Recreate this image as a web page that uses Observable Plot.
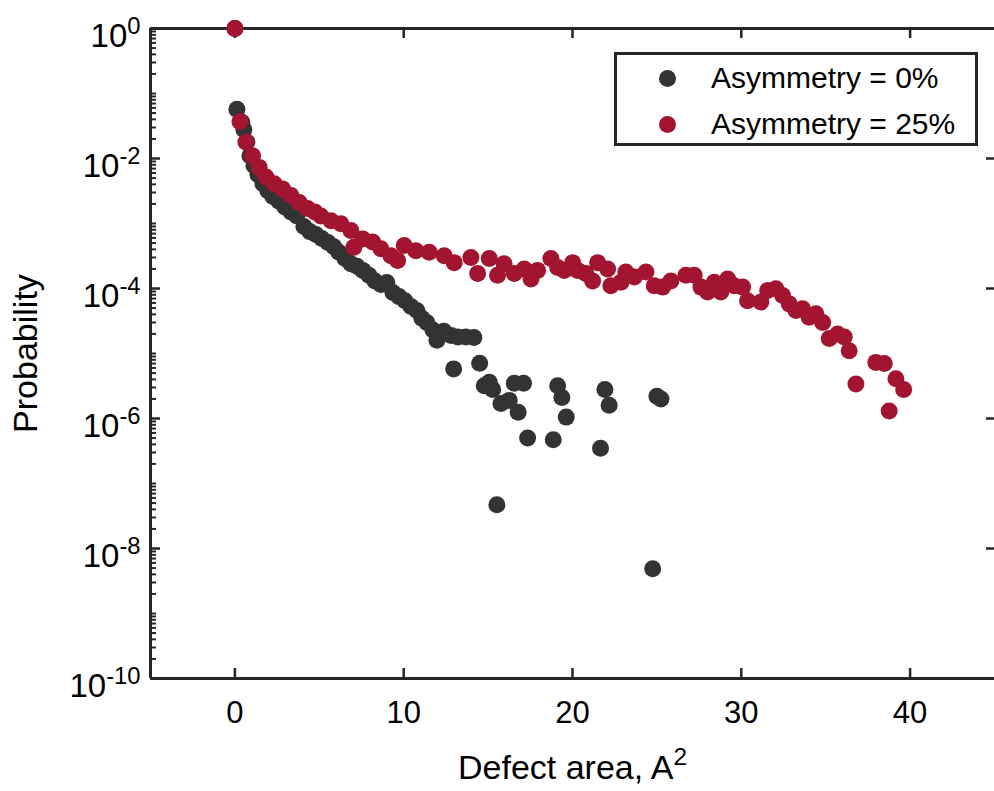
<!DOCTYPE html>
<html>
<head>
<meta charset="utf-8">
<script src="https://cdn.jsdelivr.net/npm/d3@7"></script>
<script src="https://cdn.jsdelivr.net/npm/@observablehq/plot@0.6"></script>
<style>
  html, body { margin: 0; padding: 0; background: #fff; }
  #wrap { position: relative; width: 994px; height: 791px; font-family: "Liberation Sans", Arial, Helvetica, sans-serif; }
  #legend { position: absolute; left: 614px; top: 52px; width: 358px; height: 88px; border: 3px solid #262626; background: #fff; }
  .row { position: absolute; left: 0; height: 40px; display: flex; align-items: center; font-size: 30px; color: #000; white-space: nowrap; }
  .sw { width: 17px; height: 17px; border-radius: 50%; margin-left: 42px; margin-right: 35px; }
</style>
</head>
<body>
<div id="wrap">
  <div id="chart"></div>
  <div id="legend">
    <div class="row" style="top:3px"><span class="sw" style="background:#333333"></span><span id="l0"></span></div>
    <div class="row" style="top:49px"><span class="sw" style="background:#A2142F"></span><span id="l1"></span></div>
  </div>
</div>
<script>
// ---- data ----
const seriesNames = ["Asymmetry = 0%", "Asymmetry = 25%"];
const seriesColors = ["#333333", "#A2142F"];

const blackX = [0, 0.12, 0.41, 0.53, 0.71, 0.89, 1.13, 1.36, 1.66, 1.95, 2.25, 2.61, 2.96, 3.32, 3.67,
  4.09, 4.44, 4.80, 5.15, 5.51, 5.86, 6.16, 6.52, 6.87, 7.23, 7.58, 7.94, 8.29, 8.65, 9.00,
  9.36, 9.72, 10.07, 10.43, 10.78, 11.08, 11.37, 11.73, 11.97, 12.38, 12.80, 13.21, 13.68, 14.16,
  12.96, 14.50, 14.77, 15.07, 15.27, 15.52, 15.76, 16.25, 16.55, 16.78, 17.10, 17.34, 18.86,
  19.12, 19.37, 19.63, 21.66, 21.92, 22.17, 24.75, 25.00, 25.24];
const blackP = [1, 5.7e-2, 3.6e-2, 2.8e-2, 1.8e-2, 1.1e-2, 7.8e-3, 5.7e-3, 4.1e-3, 3.2e-3, 2.6e-3, 2.2e-3, 1.8e-3, 1.5e-3, 1.3e-3,
  9.0e-4, 7.5e-4, 6.8e-4, 5.9e-4, 5.1e-4, 4.4e-4, 3.6e-4, 2.9e-4, 2.4e-4, 2.2e-4, 1.9e-4, 1.6e-4, 1.3e-4, 1.15e-4, 1.24e-4,
  8.7e-5, 7.5e-5, 6.5e-5, 5.3e-5, 4.6e-5, 3.5e-5, 3.0e-5, 2.3e-5, 1.6e-5, 2.2e-5, 1.9e-5, 1.8e-5, 1.8e-5, 1.76e-5,
  5.8e-6, 7.1e-6, 3.2e-6, 3.6e-6, 2.8e-6, 4.7e-8, 1.7e-6, 1.9e-6, 3.5e-6, 1.25e-6, 3.5e-6, 5.0e-7, 4.7e-7,
  3.2e-6, 2.1e-6, 1.05e-6, 3.5e-7, 2.8e-6, 1.6e-6, 4.9e-9, 2.2e-6, 2.0e-6];

const redX = [0, 0.30, 0.65, 1.05, 1.44, 1.84, 2.33, 2.83, 3.32, 3.81, 4.31, 4.74, 5.09, 5.69, 6.28, 6.87,
  7.05, 7.57, 8.16, 8.65, 9.24, 9.64, 10.03, 10.72, 11.51, 12.40, 12.99, 13.98, 14.38, 15.07, 15.56,
  15.95, 16.55, 17.14, 17.54, 17.93, 18.72, 19.12, 19.51, 20.01, 20.30, 20.79, 21.19, 21.49, 22.08,
  22.27, 22.87, 23.16, 23.66, 24.35, 24.84, 25.34, 25.83, 26.72, 27.21, 27.61, 28.00, 28.40, 28.79,
  29.19, 29.58, 30.08, 30.37, 31.16, 31.56, 32.05, 32.45, 32.84, 33.24, 33.63, 34.02, 34.42, 34.82,
  35.21, 35.71, 36.10, 36.39, 36.79, 37.97, 38.47, 38.76, 39.16, 39.62];
const redP = [1, 3.7e-2, 1.8e-2, 1.1e-2, 7.3e-3, 5.2e-3, 4.1e-3, 3.4e-3, 2.7e-3, 2.1e-3, 1.7e-3, 1.5e-3, 1.3e-3, 1.1e-3, 9.9e-4, 7.8e-4,
  4.3e-4, 5.8e-4, 5.2e-4, 4.1e-4, 3.2e-4, 2.7e-4, 4.6e-4, 3.8e-4, 3.6e-4, 3.2e-4, 2.5e-4, 3.0e-4, 1.7e-4, 2.9e-4, 1.6e-4,
  2.4e-4, 1.7e-4, 2.0e-4, 1.4e-4, 1.9e-4, 2.9e-4, 2.1e-4, 1.9e-4, 2.5e-4, 1.9e-4, 1.7e-4, 1.3e-4, 2.5e-4, 2.0e-4,
  1.1e-4, 1.25e-4, 1.8e-4, 1.5e-4, 1.8e-4, 1.1e-4, 1.05e-4, 1.3e-4, 1.6e-4, 1.6e-4, 1.05e-4, 8.8e-5, 1.25e-4, 8.8e-5,
  1.4e-4, 1.1e-4, 1.05e-4, 6.5e-5, 6.2e-5, 9.3e-5, 9.9e-5, 7.8e-5, 5.8e-5, 4.6e-5, 4.9e-5, 3.6e-5, 4.1e-5, 3.0e-5,
  1.7e-5, 2.0e-5, 1.8e-5, 1.1e-5, 3.4e-6, 7.3e-6, 7.0e-6, 1.3e-6, 4.1e-6, 2.8e-6];

const xTicks = [0, 10, 20, 30, 40];
const yLabelTicks = [1, 1e-2, 1e-4, 1e-6, 1e-8, 1e-10];
const yOddDecades = [1e-1, 1e-3, 1e-5, 1e-7, 1e-9];
const yMinorMultipliers = [2, 3, 4, 5, 6, 7, 8, 9];
const xLabel = "Defect area, A^2";
const yLabel = "Probability";

// ---- build ----
const black = blackX.map((x, i) => ({x, p: blackP[i]}));
const red = redX.map((x, i) => ({x, p: redP[i]}));
const decades = d3.range(-10, 0);
const yMinor = yOddDecades.concat(...decades.map(k => yMinorMultipliers.map(m => m * Math.pow(10, k))));

const W = 994, H = 791, ML = 150, MR = 0, MT = 28, MB = 113;
const plotW = W - ML - MR, plotH = H - MT - MB;
const axisColor = "#262626";
const FONT = "Liberation Sans, Arial, Helvetica, sans-serif";

const chart = Plot.plot({
  width: W, height: H,
  marginLeft: ML, marginRight: MR, marginTop: MT, marginBottom: MB,
  style: {fontFamily: FONT, background: "#fff", color: "#000"},
  x: {domain: [-5, 45]},
  y: {type: "log", domain: [1e-10, 1]},
  marks: [
    // axis labels
    Plot.axisX(xTicks, {tickSize: 0, tickPadding: 22, fontSize: 31, tickFormat: d => String(d),
      label: xLabel, labelAnchor: "center", labelOffset: 100}),
    Plot.axisY(yLabelTicks, {tickSize: 0, tickPadding: 10, fontSize: 33,
      tickFormat: d => "10^" + Math.round(Math.log10(d)),
      label: yLabel, labelAnchor: "center", labelOffset: 138}),
    // inward ticks
    Plot.tickX(xTicks, {x: d => d, insetTop: plotH - 10, stroke: axisColor, strokeWidth: 2.5}),
    Plot.tickX(xTicks, {x: d => d, insetBottom: plotH - 10, stroke: axisColor, strokeWidth: 2.5}),
    Plot.tickY(yLabelTicks, {y: d => d, insetRight: plotW - 10, stroke: axisColor, strokeWidth: 2.5}),
    Plot.tickY(yMinor, {y: d => d, insetRight: plotW - 6, stroke: axisColor, strokeWidth: 2}),
    Plot.tickY(yLabelTicks, {y: d => d, insetLeft: plotW - 8, stroke: axisColor, strokeWidth: 2.5}),
    // frame
    Plot.ruleX([-5], {stroke: axisColor, strokeWidth: 3}),
    Plot.ruleY([1e-10, 1], {stroke: axisColor, strokeWidth: 3}),
    // data
    Plot.dot(black, {x: "x", y: "p", r: 8.5, fill: seriesColors[0]}),
    Plot.dot(red, {x: "x", y: "p", r: 8.5, fill: seriesColors[1]})
  ]
});
document.getElementById("chart").appendChild(chart);

// strip label arrows
d3.select(chart).selectAll('g[aria-label="x-axis label"] text, g[aria-label="y-axis label"] text')
  .each(function() { this.textContent = this.textContent.replace(/\s*[\u2190-\u2193]\s*/g, "").trim(); });

// superscripts
function supify(textEl) {
  const t = textEl.textContent;
  const m = t.match(/^(.*)\^(.*)$/);
  if (!m) return;
  textEl.textContent = "";
  const s = d3.select(textEl);
  s.append("tspan").text(m[1]);
  s.append("tspan").attr("dy", "-0.55em").attr("font-size", "0.72em").text(m[2]);
}
d3.select(chart).selectAll('g[aria-label="y-axis tick label"] text').each(function() { supify(this); })
  .attr("transform", function() { const t = d3.select(this).attr("transform") || ""; return t + " translate(0,8)"; });
d3.select(chart).selectAll('g[aria-label="x-axis label"] text').each(function() { supify(this); });
d3.select(chart).selectAll('g[aria-label="x-axis label"] text, g[aria-label="y-axis label"] text')
  .attr("font-size", 34);

document.getElementById("l0").textContent = seriesNames[0];
document.getElementById("l1").textContent = seriesNames[1];
</script>
</body>
</html>
